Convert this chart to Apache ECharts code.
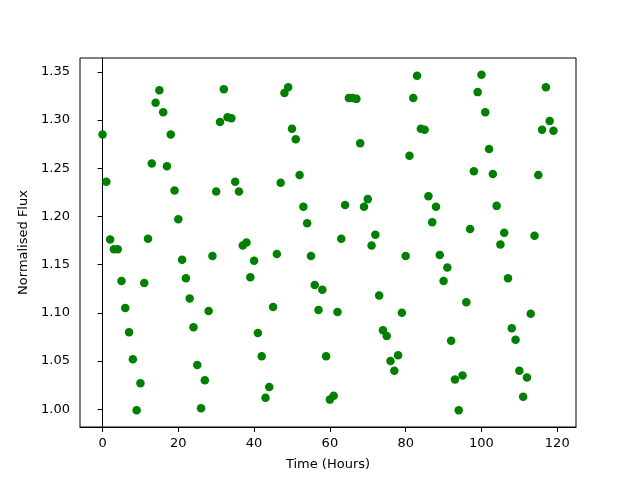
<!DOCTYPE html>
<html><head><meta charset="utf-8">
<script src="https://cdn.jsdelivr.net/npm/echarts@6/dist/echarts.min.js"></script>
<style>html,body{margin:0;padding:0;background:#fff}#c{width:640px;height:480px}</style>
</head><body><div id="c"></div>
<script>
const hours = [];
for (let i = 0; i < 120; i++) hours.push(i);
const flux = [
1.285,1.236,1.176,1.166,1.166,1.133,1.105,1.080,1.052,0.999,
1.027,1.131,1.177,1.255,1.318,1.331,1.308,1.252,1.285,1.227,
1.197,1.155,1.136,1.115,1.085,1.046,1.001,1.030,1.102,1.159,
1.226,1.298,1.332,1.303,1.302,1.236,1.226,1.170,1.173,1.137,
1.154,1.079,1.055,1.012,1.023,1.106,1.161,1.235,1.328,1.334,
1.291,1.280,1.243,1.210,1.193,1.159,1.129,1.103,1.124,1.055,
1.010,1.014,1.101,1.177,1.212,1.323,1.323,1.322,1.276,1.210,
1.218,1.170,1.181,1.118,1.082,1.076,1.050,1.040,1.056,1.100,
1.159,1.263,1.323,1.346,1.291,1.290,1.221,1.194,1.210,1.160,
1.133,1.147,1.071,1.031,0.999,1.035,1.111,1.187,1.247,1.329,
1.347,1.308,1.270,1.244,1.211,1.171,1.183,1.136,1.084,1.072,
1.040,1.013,1.033,1.099,1.180,1.243,1.290,1.334,1.299,1.289
];
const xTicks = [0, 20, 40, 60, 80, 100, 120];
const yTicks = [1.00, 1.05, 1.10, 1.15, 1.20, 1.25, 1.30, 1.35];
const xLabel = 'Time (Hours)';
const yLabel = 'Normalised Flux';

const font = 'DejaVu Sans';
const chart = echarts.init(document.getElementById('c'), null, {renderer: 'canvas'});
const pts = hours.map((h, i) => [h, flux[i]]);
chart.setOption({
  animation: false,
  backgroundColor: '#fff',
  grid: {left: 80, right: 64, top: 58, bottom: 53, show: true, borderColor: '#000', borderWidth: 1, backgroundColor: 'transparent'},
  xAxis: {
    type: 'value', min: -5.95, max: 124.95,
    name: xLabel, nameLocation: 'middle', nameGap: 31,
    nameTextStyle: {fontFamily: font, fontSize: 13, color: '#000'},
    axisLine: {show: true, lineStyle: {color: '#000', width: 1}},
    axisTick: {show: true, inside: false, length: 5, customValues: xTicks, lineStyle: {color: '#000'}},
    axisLabel: {customValues: xTicks, fontFamily: font, fontSize: 13, color: '#000', margin: 10},
    splitLine: {show: false}
  },
  yAxis: {
    type: 'value', min: 0.9816, max: 1.3644,
    name: yLabel, nameLocation: 'middle', nameGap: 48, nameRotate: 90,
    nameTextStyle: {fontFamily: font, fontSize: 13, color: '#000'},
    axisLine: {show: true, lineStyle: {color: '#000', width: 1}},
    axisTick: {show: true, inside: false, length: 5, customValues: yTicks, lineStyle: {color: '#000'}},
    axisLabel: {customValues: yTicks, fontFamily: font, fontSize: 13, color: '#000', margin: 10,
      formatter: v => v.toFixed(2)},
    splitLine: {show: false}
  },
  series: [{
    type: 'scatter', data: pts, symbol: 'circle', symbolSize: 8.5,
    itemStyle: {color: '#008000', opacity: 1}
  }]
});
</script></body></html>
